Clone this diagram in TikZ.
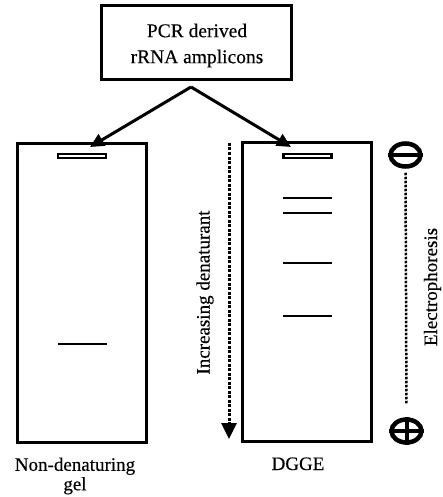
\documentclass[tikz,border=0pt]{standalone}
\usepackage{fontspec}
\setmainfont{Liberation Serif}[FakeBold=0.35]
\usetikzlibrary{arrows.meta,shapes.geometric}
\begin{document}
\begin{tikzpicture}[x=1pt,y=-1pt,
  lbl/.style={inner sep=0pt,font=\fontsize{19}{19.5}\selectfont},
  boxnode/.style={draw,line width=2.5pt,minimum width=190pt,minimum height=74pt,inner sep=0pt},
  gel/.style={draw,line width=2.5pt,minimum width=129pt,minimum height=299pt,inner sep=0pt},
  slot/.style={draw,line width=2.2pt,minimum width=48pt,minimum height=4.5pt,inner sep=0pt},
  band/.style={line width=2.6pt},
  feed/.style={line width=3pt,-{Triangle[length=14pt,width=13pt]}},
  gradarr/.style={line width=3pt,dash pattern=on 3pt off 1.5pt,-{Triangle[length=16pt,width=15pt]}},
  electrode/.style={draw,ellipse,line width=4.5pt,minimum width=30pt,minimum height=23pt,inner sep=0pt},
  ebar/.style={line width=4pt},
  field/.style={line width=2.5pt,dash pattern=on 2.5pt off 1.5pt}]
\useasboundingbox (0,0) rectangle (442,497);

% source box
\node[boxnode] (src) at (196.5,42.5) {};
\node[lbl,align=center,font=\fontsize{19.5}{26}\selectfont] (srctext) at (197,45.5) {PCR derived\\rRNA amplicons};

% gels
\node[gel] (gelL) at (82,293) {};
\node[gel] (gelR) at (307,292) {};

% wells
\node[slot] (slotL) at (82,156) {};
\node[slot] (slotR) at (307.5,156) {};

% feeding arrows
\coordinate (apex) at (191,87);
\coordinate (tipL) at (90,147);
\coordinate (tipR) at (291,147);
\draw[feed] (apex) -- (tipL);
\draw[feed] (apex) -- (tipR);

% bands
\coordinate (bL1a) at (58,344); \coordinate (bL1b) at (107,344);
\draw[band] (bL1a) -- (bL1b);
\foreach \y [count=\i] in {198,213,263,316}{
  \coordinate (bR\i a) at (283,\y); \coordinate (bR\i b) at (332,\y);
  \draw[band] (bR\i a) -- (bR\i b);
}

% denaturant gradient
\coordinate (gradTop) at (229,143);
\coordinate (gradBot) at (229,439);
\draw[gradarr] (gradTop) -- (gradBot);
\node[lbl,rotate=90,anchor=base] (gradlbl) at (209.5,292.5) {Increasing denaturant};

% electrodes
\node[electrode] (cathode) at (405.5,155) {};
\draw[ebar] (cathode.west) -- (cathode.east);
\node[electrode] (anode) at (406.5,431) {};
\draw[ebar] (anode.west) -- (anode.east);
\draw[ebar] (anode.north) -- (anode.south);
\draw[field,shorten <=4pt,shorten >=14pt] (cathode.south) -- (anode.north);
\node[lbl,rotate=90,anchor=base] (eplbl) at (437,287) {Electrophoresis};

% labels
\node[lbl,align=center] (lblL) at (75,476) {Non-denaturing\\gel};
\node[lbl,anchor=base] (lblR) at (298,470) {DGGE};
\end{tikzpicture}
\end{document}
